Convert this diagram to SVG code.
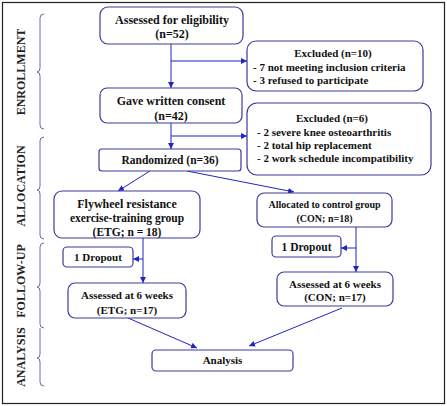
<svg xmlns="http://www.w3.org/2000/svg" width="447" height="406" viewBox="0 0 447 406">
<defs>
<marker id="ah" viewBox="0 0 10 10" refX="10" refY="5" markerWidth="6" markerHeight="6" orient="auto" markerUnits="userSpaceOnUse">
<path d="M0,0 L10,5 L0,10 z" fill="#2323c8"/>
</marker>
<style>
.b{fill:#fff;stroke:#3a3a9c;stroke-width:1.2}
.t{font-family:"Liberation Serif","Times New Roman",serif;font-weight:bold;font-size:11px;fill:#111;text-anchor:middle}
.m{font-size:12px}
.r{font-size:11.5px}
.s{font-size:10px}
.l{text-anchor:start}
.c{fill:none;stroke:#2323c8;stroke-width:1}
.br{fill:none;stroke:#6a6ab4;stroke-width:1}
.side{font-family:"Liberation Serif","Times New Roman",serif;font-weight:bold;font-size:12px;fill:#222;text-anchor:middle}
</style>
</defs>
<rect x="0" y="0" width="447" height="406" fill="#fff"/>
<rect x="2.5" y="2.5" width="442" height="401" fill="none" stroke="#222" stroke-width="1.2"/>

<g id="brackets">
<path class="br" d="M44,14 Q40,14 40,18 L40,68 Q40,72 37,72 Q40,72 40,76 L40,125 Q40,129 44,129"/>
<path class="br" d="M44,137 Q40,137 40,141 L40,186 Q40,190 37,190 Q40,190 40,194 L40,235 Q40,239 44,239"/>
<path class="br" d="M44,243 Q40,243 40,247 L40,283 Q40,287 37,287 Q40,287 40,291 L40,324 Q40,328 44,328"/>
<path class="br" d="M40,328 L40,354 Q40,358 37,358 Q40,358 40,362 L40,382 Q40,386 44,386"/>
<text class="side" transform="translate(25,72) rotate(-90)">ENROLLMENT</text>
<text class="side" transform="translate(25,186) rotate(-90)">ALLOCATION</text>
<text class="side" transform="translate(25,281) rotate(-90)">FOLLOW-UP</text>
<text class="side" transform="translate(25,357) rotate(-90)">ANALYSIS</text>
</g>

<g id="connectors">
<path class="c" d="M171,44 L171,88" marker-end="url(#ah)"/>
<path class="c" d="M171,61 L247,61" marker-end="url(#ah)"/>
<path class="c" d="M171,123 L171,149" marker-end="url(#ah)"/>
<path class="c" d="M171,136 L247,136" marker-end="url(#ah)"/>
<path class="c" d="M150,171 L118,191" marker-end="url(#ah)"/>
<path class="c" d="M187,171 L294,192" marker-end="url(#ah)"/>
<path class="c" d="M143,238 L143,283" marker-end="url(#ah)"/>
<path class="c" d="M143,259 L133,259" marker-end="url(#ah)"/>
<path class="c" d="M356,227 L356,272" marker-end="url(#ah)"/>
<path class="c" d="M356,248 L341,248" marker-end="url(#ah)"/>
<path class="c" d="M128,318 L197,348" marker-end="url(#ah)"/>
<path class="c" d="M342,308 L249,346" marker-end="url(#ah)"/>
</g>

<g id="assessed">
<rect class="b" x="100" y="7" width="143" height="37" rx="8"/>
<text class="t m" x="172" y="24">Assessed  for eligibility</text>
<text class="t m" x="172" y="38">(n=52)</text>
</g>
<g id="excluded1">
<rect class="b" x="247" y="41" width="176" height="50" rx="9"/>
<text class="t" x="333" y="57">Excluded  (n=10)</text>
<text class="t l" x="253" y="71">- 7 not meeting  inclusion  criteria</text>
<text class="t l" x="253" y="84">- 3 refused to participate</text>
</g>
<g id="consent">
<rect class="b" x="100" y="88" width="142" height="35" rx="7"/>
<text class="t m" x="171" y="105">Gave written  consent</text>
<text class="t m" x="171" y="120">(n=42)</text>
</g>
<g id="excluded2">
<rect class="b" x="247" y="103" width="184" height="72" rx="10"/>
<text class="t" x="332" y="122">Excluded  (n=6)</text>
<text class="t l" x="257" y="136">- 2 severe knee osteoarthritis</text>
<text class="t l" x="257" y="149">- 2 total hip  replacement</text>
<text class="t l" x="257" y="162">- 2 work  schedule incompatibility</text>
</g>
<g id="randomized">
<rect class="b" x="99" y="149" width="142" height="22" rx="3"/>
<text class="t r" x="170" y="164">Randomized  (n=36)</text>
</g>
<g id="etg">
<rect class="b" x="54" y="191" width="146" height="47" rx="8"/>
<text class="t m" x="127" y="208">Flywheel resistance</text>
<text class="t r" x="127" y="222">exercise-training group</text>
<text class="t r" x="127" y="236">(ETG; n = 18)</text>
</g>
<g id="con">
<rect class="b" x="257" y="193" width="135" height="34" rx="7"/>
<text class="t s" x="324.5" y="208">Allocated to control group</text>
<text class="t s" x="324.5" y="222">(CON; n=18)</text>
</g>
<g id="dropout1">
<rect class="b" x="63" y="247" width="70" height="20" rx="4"/>
<text class="t" x="98" y="261">1 Dropout</text>
</g>
<g id="dropout2">
<rect class="b" x="272" y="236" width="69" height="21" rx="4"/>
<text class="t r" x="306.5" y="251">1 Dropout</text>
</g>
<g id="assessed-etg">
<rect class="b" x="68" y="283" width="118" height="35" rx="7"/>
<text class="t" x="127" y="299">Assessed at 6 weeks</text>
<text class="t" x="127" y="314">(ETG;  n=17)</text>
</g>
<g id="assessed-con">
<rect class="b" x="277" y="272" width="116" height="34" rx="7"/>
<text class="t" x="335" y="288">Assessed at 6 weeks</text>
<text class="t" x="335" y="301">(CON;  n=17)</text>
</g>
<g id="analysis">
<rect class="b" x="152" y="350" width="141" height="21" rx="4"/>
<text class="t" x="222.5" y="364">Analysis</text>
</g>
</svg>
